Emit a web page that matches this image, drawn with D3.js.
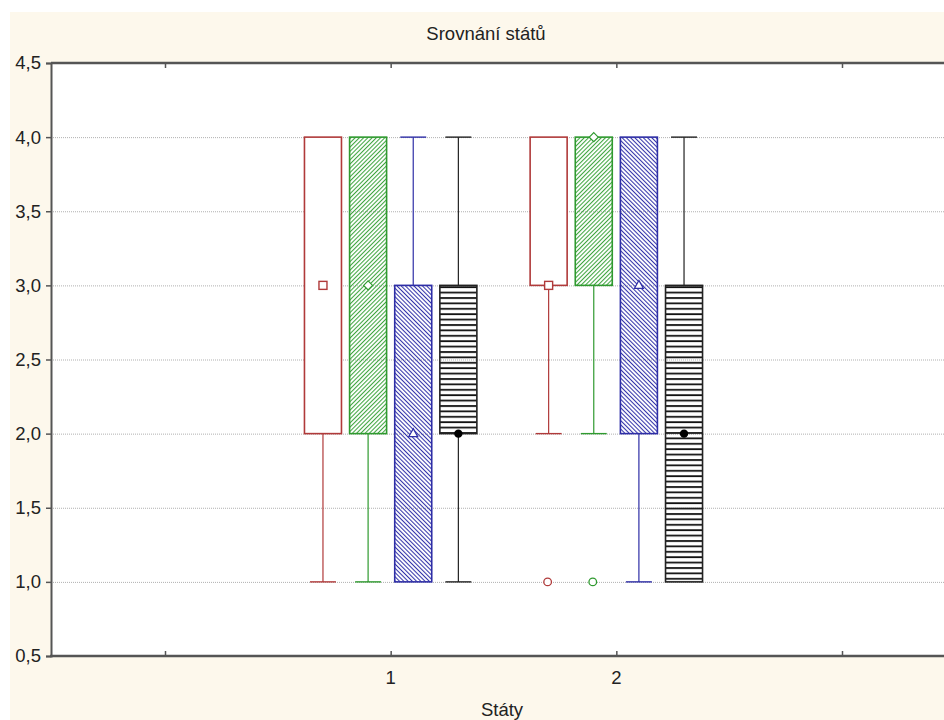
<!DOCTYPE html>
<html>
<head>
<meta charset="utf-8">
<script src="https://cdn.jsdelivr.net/npm/d3@7"></script>
<style>
  body { margin: 0; background: #fff; }
  svg { display: block; font-family: "Liberation Sans", Arial, sans-serif; }
</style>
</head>
<body>
<div id="chart"></div>
<script>
// Data (series x group)
var groups = [1, 2];
var xTicks = [0, 1, 2, 3];
var yTicks = [0.5, 1, 1.5, 2, 2.5, 3, 3.5, 4, 4.5];
var seriesColors = ["#b03a3a", "#2f9a2f", "#2e2ea6", "#222222"];
var seriesOffsets = [-0.3, -0.1, 0.1, 0.3];
var medianVals = [[3, 3], [3, 4], [2, 3], [2, 2]];
var q1Vals = [[2, 3], [2, 3], [1, 2], [2, 1]];
var q3Vals = [[4, 4], [4, 4], [3, 4], [3, 3]];
var minVals = [[1, 2], [1, 2], [1, 1], [1, 1]];
var maxVals = [[4, 4], [4, 4], [4, 4], [4, 4]];
var outlierVals = [[[], [1]], [[], [1]], [[], []], [[], []]];

var svgWidth = 944;
var svgHeight = 720;
var margin = { top: 63, bottom: 64, left: 51, right: 0 };
var height = svgHeight - margin.top - margin.bottom;
var fontSize = 18.5;

var svg = d3.select("#chart")
  .append("svg")
  .attr("width", svgWidth)
  .attr("height", svgHeight);

// backgrounds
svg.append("rect")
  .attr("x", 10).attr("y", 12)
  .attr("width", svgWidth).attr("height", svgHeight)
  .attr("fill", "#fdf8ec");
svg.append("rect")
  .attr("x", margin.left).attr("y", margin.top)
  .attr("width", svgWidth - margin.left).attr("height", height)
  .attr("fill", "#fff");

// patterns
var defs = svg.append("defs");
defs.append("pattern")
  .attr("id", "hatchGreen")
  .attr("patternUnits", "userSpaceOnUse")
  .attr("width", 3).attr("height", 3)
  .attr("patternTransform", "rotate(45)")
  .append("line")
  .attr("x1", 0.5).attr("y1", 0).attr("x2", 0.5).attr("y2", 3)
  .attr("stroke", "#3fa53f").attr("stroke-width", 1.1);
defs.append("pattern")
  .attr("id", "hatchBlue")
  .attr("patternUnits", "userSpaceOnUse")
  .attr("width", 3).attr("height", 3)
  .attr("patternTransform", "rotate(-45)")
  .append("line")
  .attr("x1", 0.5).attr("y1", 0).attr("x2", 0.5).attr("y2", 3)
  .attr("stroke", "#3434aa").attr("stroke-width", 1.1);
defs.append("pattern")
  .attr("id", "hatchBlack")
  .attr("patternUnits", "userSpaceOnUse")
  .attr("width", 10).attr("height", 5.4)
  .append("line")
  .attr("x1", 0).attr("y1", 1).attr("x2", 10).attr("y2", 1)
  .attr("stroke", "#111").attr("stroke-width", 1.8);
var fills = ["#fff", "url(#hatchGreen)", "url(#hatchBlue)", "url(#hatchBlack)"];

// scales
var xScale = d3.scaleLinear().domain([0, 3]).range([165, 842]);
var yScale = d3.scaleLinear().domain([0.5, 4.5]).range([656, 63]);
var boxW = 0.164;
var capW = 0.115;

// grid
var grid = svg.append("g")
  .attr("transform", `translate(${margin.left}, 0)`)
  .call(d3.axisLeft(yScale).tickValues(yTicks.slice(1, -1)).tickSize(-(svgWidth - margin.left)).tickFormat(""));
grid.select(".domain").remove();
grid.selectAll("line")
  .attr("stroke", "#b0b0b0")
  .attr("stroke-dasharray", "1,1");

// boxes
seriesColors.forEach(function(color, s) {
  var g = svg.append("g");
  groups.forEach(function(grp, i) {
    var cx = xScale(grp + seriesOffsets[s]);
    var half = (xScale(boxW) - xScale(0)) / 2;
    var capHalf = (xScale(capW) - xScale(0)) / 2;
    // lower whisker
    if (minVals[s][i] < q1Vals[s][i]) {
      g.append("line")
        .attr("x1", cx).attr("x2", cx)
        .attr("y1", yScale(minVals[s][i])).attr("y2", yScale(q1Vals[s][i]))
        .attr("stroke", color).attr("stroke-width", 1.2);
      g.append("line")
        .attr("x1", cx - capHalf).attr("x2", cx + capHalf)
        .attr("y1", yScale(minVals[s][i])).attr("y2", yScale(minVals[s][i]))
        .attr("stroke", color).attr("stroke-width", 1.4);
    }
    // upper whisker
    if (maxVals[s][i] > q3Vals[s][i]) {
      g.append("line")
        .attr("x1", cx).attr("x2", cx)
        .attr("y1", yScale(maxVals[s][i])).attr("y2", yScale(q3Vals[s][i]))
        .attr("stroke", color).attr("stroke-width", 1.2);
      g.append("line")
        .attr("x1", cx - capHalf).attr("x2", cx + capHalf)
        .attr("y1", yScale(maxVals[s][i])).attr("y2", yScale(maxVals[s][i]))
        .attr("stroke", color).attr("stroke-width", 1.4);
    }
    // box
    g.append("rect")
      .attr("x", cx - half)
      .attr("y", yScale(q3Vals[s][i]))
      .attr("width", half * 2)
      .attr("height", yScale(q1Vals[s][i]) - yScale(q3Vals[s][i]))
      .attr("fill", fills[s])
      .attr("stroke", color)
      .attr("stroke-width", 1.6);
    // outliers
    outlierVals[s][i].forEach(function(v) {
      g.append("circle")
        .attr("cx", cx - 1).attr("cy", yScale(v)).attr("r", 3.8)
        .attr("fill", "#fff").attr("stroke", color).attr("stroke-width", 1.3);
    });
    // median marker
    var my = yScale(medianVals[s][i]);
    if (s === 0) {
      g.append("rect")
        .attr("x", cx - 4).attr("y", my - 4).attr("width", 8).attr("height", 8)
        .attr("fill", "#fff").attr("stroke", color).attr("stroke-width", 1.4);
    } else if (s === 1) {
      g.append("path")
        .attr("d", `M${cx},${my - 4.5}L${cx + 4.5},${my}L${cx},${my + 4.5}L${cx - 4.5},${my}Z`)
        .attr("fill", "#fff").attr("stroke", color).attr("stroke-width", 1.2);
    } else if (s === 2) {
      g.append("path")
        .attr("d", `M${cx},${my - 5}L${cx + 4.5},${my + 3}L${cx - 4.5},${my + 3}Z`)
        .attr("fill", "#fff").attr("stroke", color).attr("stroke-width", 1.2);
    } else {
      g.append("circle")
        .attr("cx", cx).attr("cy", my).attr("r", 4.2)
        .attr("fill", "#000");
    }
  });
});

// axes
var leftAxis = svg.append("g")
  .attr("transform", `translate(${margin.left}, 0)`)
  .call(d3.axisLeft(yScale).tickValues(yTicks).tickSize(5).tickPadding(5)
    .tickFormat(function(d) { return d.toFixed(1).replace(".", ","); }));
leftAxis.select(".domain").attr("stroke", "#555").attr("stroke-width", 2);
leftAxis.selectAll("line").attr("stroke", "#555").attr("stroke-width", 1.5);
leftAxis.selectAll("text")
  .attr("font-size", fontSize)
  .attr("fill", "#222")
  .attr("font-family", "Liberation Sans, Arial, sans-serif");

var topAxis = svg.append("g")
  .attr("transform", `translate(0, ${margin.top})`)
  .call(d3.axisBottom(xScale).tickValues(xTicks).tickSize(5).tickFormat(""));
topAxis.select(".domain").remove();
topAxis.selectAll("line").attr("stroke", "#555").attr("stroke-width", 1.5);
svg.append("line")
  .attr("x1", margin.left).attr("x2", svgWidth)
  .attr("y1", margin.top).attr("y2", margin.top)
  .attr("stroke", "#555").attr("stroke-width", 2.5);

var bottomAxis = svg.append("g")
  .attr("transform", `translate(0, ${margin.top + height})`)
  .call(d3.axisTop(xScale).tickValues(xTicks).tickSize(5).tickFormat(""));
bottomAxis.select(".domain").remove();
bottomAxis.selectAll("line").attr("stroke", "#555").attr("stroke-width", 1.5);
svg.append("line")
  .attr("x1", margin.left - 1).attr("x2", svgWidth)
  .attr("y1", margin.top + height).attr("y2", margin.top + height)
  .attr("stroke", "#555").attr("stroke-width", 2.5);

// x tick labels
svg.append("g")
  .selectAll("text")
  .data(groups)
  .enter()
  .append("text")
  .attr("x", d => xScale(d))
  .attr("y", 684)
  .attr("text-anchor", "middle")
  .attr("font-size", fontSize)
  .attr("fill", "#222")
  .text(d => d);

// titles
svg.append("text")
  .attr("x", 486).attr("y", 40)
  .attr("text-anchor", "middle")
  .attr("font-size", fontSize)
  .attr("fill", "#222")
  .text("Srovnání států");

svg.append("text")
  .attr("x", 502).attr("y", 716)
  .attr("text-anchor", "middle")
  .attr("font-size", fontSize)
  .attr("fill", "#222")
  .text("Státy");
</script>
</body>
</html>
